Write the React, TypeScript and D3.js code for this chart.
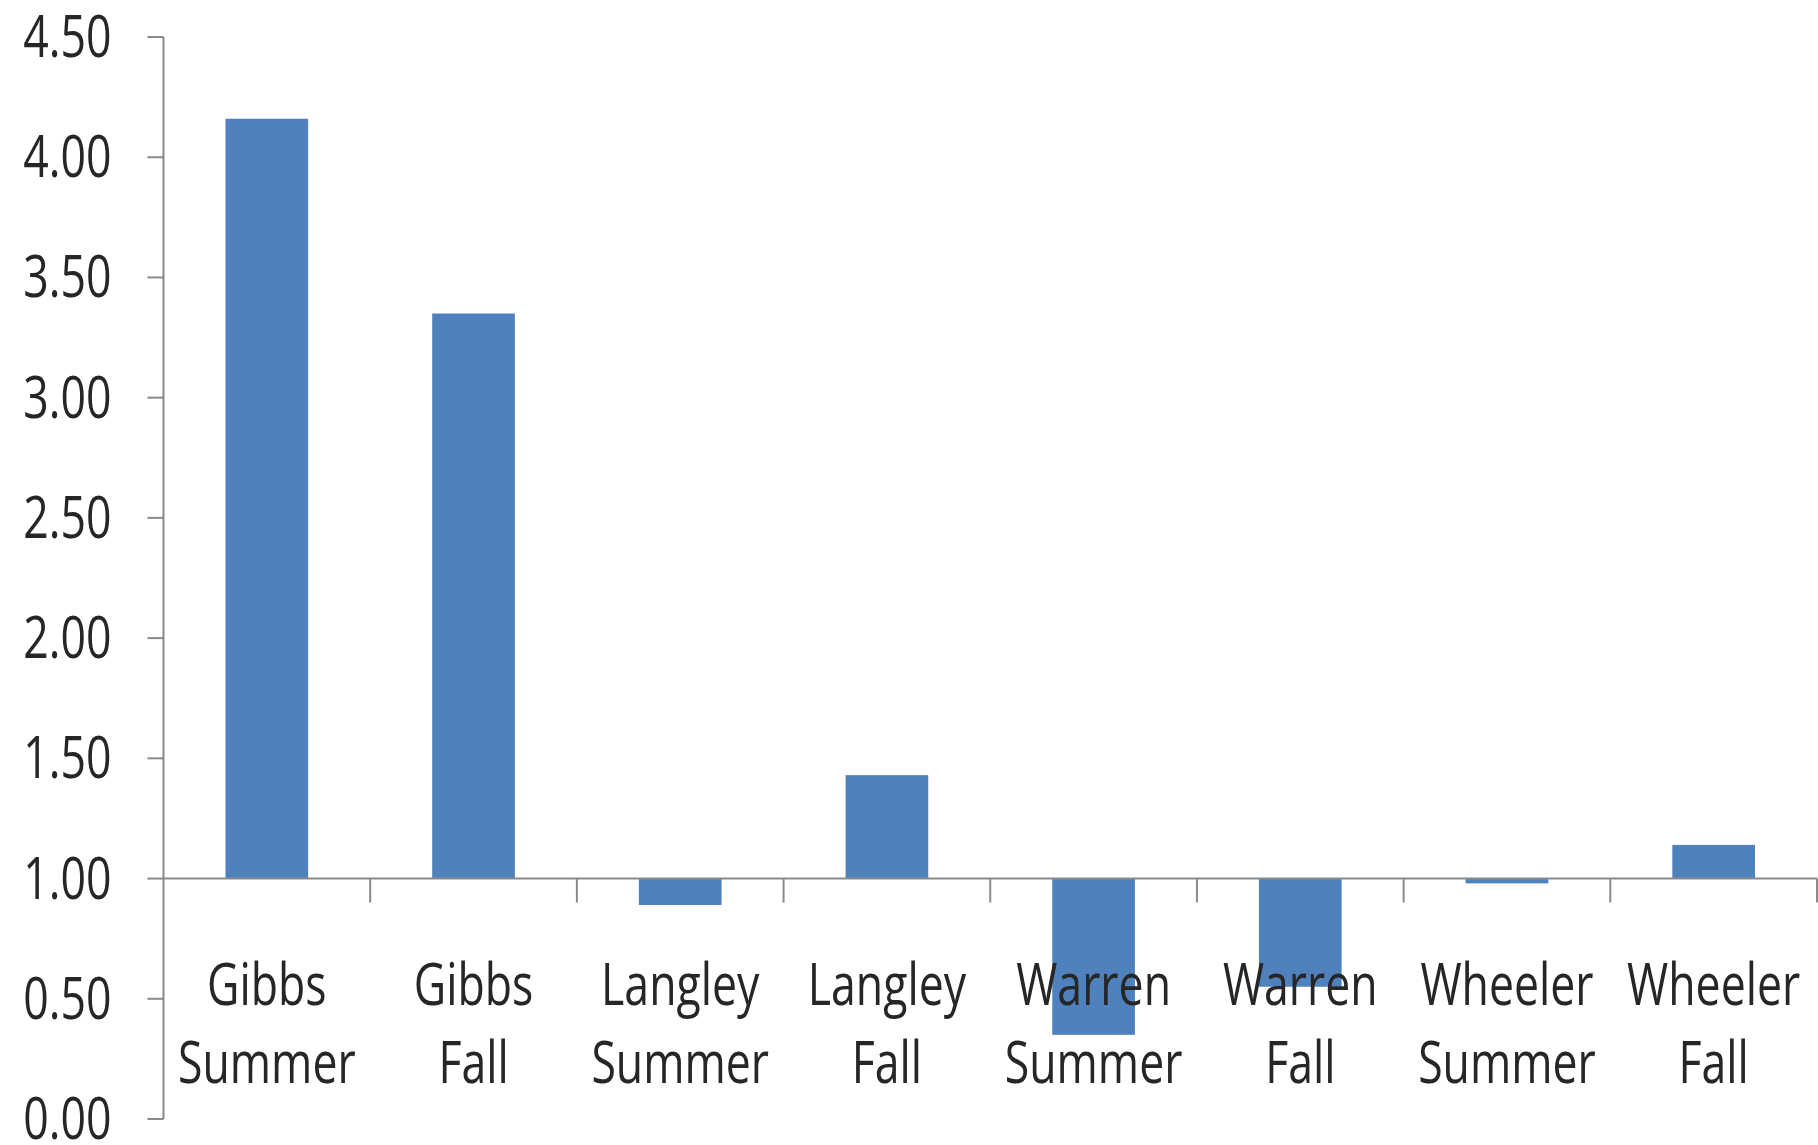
import React from "react";
import * as d3 from "d3";

const categories = [
  "Gibbs Summer",
  "Gibbs Fall",
  "Langley Summer",
  "Langley Fall",
  "Warren Summer",
  "Warren Fall",
  "Wheeler Summer",
  "Wheeler Fall",
];
const values = [4.16, 3.35, 0.89, 1.43, 0.35, 0.55, 0.98, 1.14];
const yTicks = [0, 0.5, 1, 1.5, 2, 2.5, 3, 3.5, 4, 4.5];
const baselineValue = 1.0;

const W = 1818;
const H = 1145;
const FONT = "'Open Sans', 'Noto Sans', sans-serif";
const FS = 44.6;
const SY = 1.3;
const AXIS = "#8a8a8a";
const BAR = "#4f81bd";
const TEXT = "#262626";

export default function App() {
  const x = d3
    .scaleBand<string>()
    .domain(categories)
    .range([163.5, 1817])
    .paddingInner(0.6)
    .paddingOuter(0.3);
  const y = d3.scaleLinear().domain([0, 4.5]).range([1119, 37]);
  const fmt = d3.format(".2f");
  const step = x.step();
  const axisLeft = x.range()[0];
  const axisRight = x.range()[1];
  const y0 = y(baselineValue);

  return (
    <svg
      width={W}
      height={H}
      style={{ position: "absolute", left: 0, top: 0, background: "#fff" }}
    >
      <rect x={0} y={0} width={W} height={H} fill="#fff" />
      {categories.map((c, i) => {
        const v = values[i];
        const top = Math.min(y(v), y0);
        const h = Math.abs(y(v) - y0);
        return (
          <rect key={c} x={x(c)} y={top} width={x.bandwidth()} height={h} fill={BAR} />
        );
      })}
      <line x1={axisLeft} x2={axisLeft} y1={y(4.5)} y2={y(0)} stroke={AXIS} strokeWidth={2} />
      {yTicks.map((t) => (
        <g key={t}>
          <line x1={axisLeft - 16} x2={axisLeft} y1={y(t)} y2={y(t)} stroke={AXIS} strokeWidth={2} />
          <text
            transform={`translate(${axisLeft - 52},${y(t) + 20}) scale(1,${SY})`}
            textAnchor="end"
            fontFamily={FONT}
            fontSize={FS}
            fill={TEXT}
          >
            {fmt(t)}
          </text>
        </g>
      ))}
      <line x1={axisLeft} x2={axisRight} y1={y0} y2={y0} stroke={AXIS} strokeWidth={2} />
      {categories.map((c, i) => (
        <line
          key={"t" + c}
          x1={axisLeft + (i + 1) * step}
          x2={axisLeft + (i + 1) * step}
          y1={y0}
          y2={y0 + 24}
          stroke={AXIS}
          strokeWidth={2}
        />
      ))}
      {categories.map((c) => {
        const cx = (x(c) as number) + x.bandwidth() / 2;
        const lines = c.split(" ");
        return (
          <g key={"l" + c}>
            {lines.map((ln, k) => (
              <text
                key={k}
                transform={`translate(${cx},${y0 + 126 + k * 78}) scale(1,${SY})`}
                textAnchor="middle"
                fontFamily={FONT}
                fontSize={FS}
                fill={TEXT}
              >
                {ln}
              </text>
            ))}
          </g>
        );
      })}
    </svg>
  );
}
